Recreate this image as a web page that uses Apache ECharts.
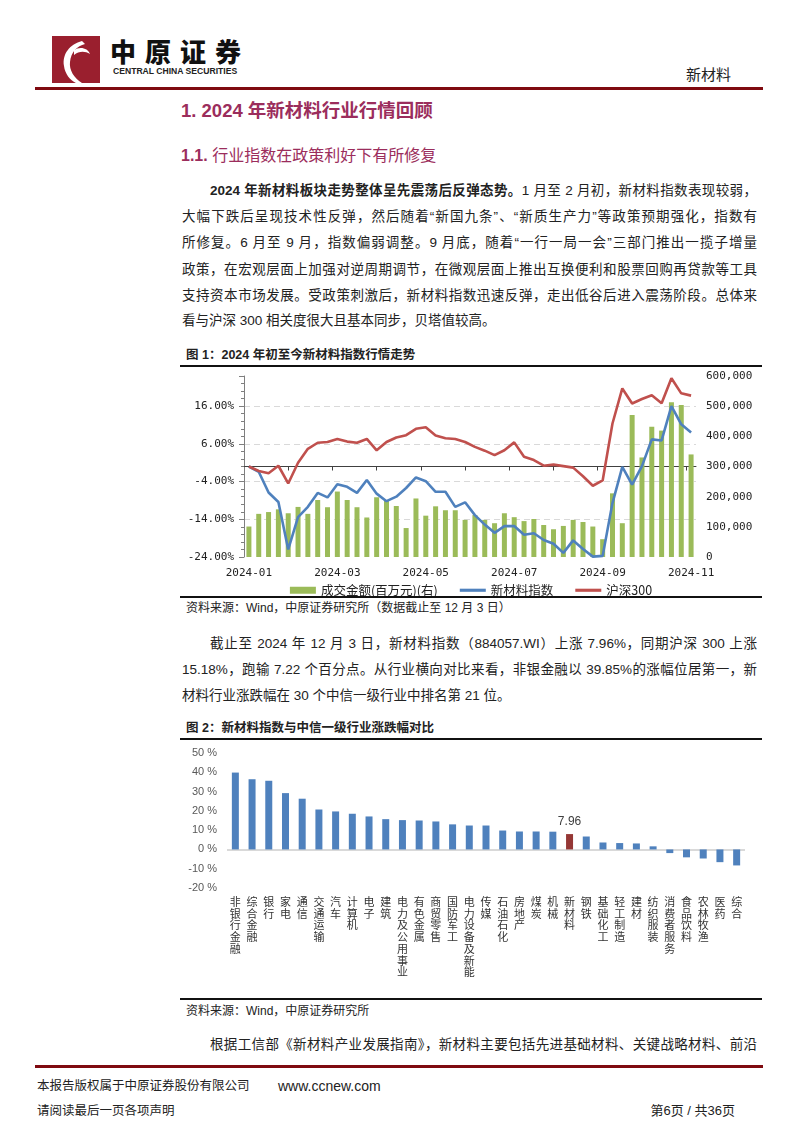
<!DOCTYPE html>
<html><head><meta charset="utf-8">
<script src="https://cdn.jsdelivr.net/npm/echarts@6/dist/echarts.min.js"></script>
<style>
html,body{margin:0;padding:0;}
body{width:794px;height:1123px;position:relative;background:#fff;font-family:"Liberation Sans","Noto Sans CJK SC",sans-serif;color:#222;overflow:hidden;}
.abs{position:absolute;white-space:nowrap;}
.ln{position:absolute;left:182px;width:575px;font-size:13.5px;line-height:20px;height:20px;text-align:justify;text-align-last:justify;color:#222;}
.ind{left:210px;width:547px;}
.last{text-align-last:left;}
.rule{position:absolute;left:180px;width:582px;height:2px;background:#111;}
.cap{position:absolute;left:186px;font-size:12.5px;font-weight:bold;line-height:16px;white-space:nowrap;}
.src{position:absolute;left:186px;font-size:12px;line-height:16px;white-space:nowrap;}
</style></head>
<body>
<!-- header -->
<svg class="abs" style="left:52px;top:36px" width="48" height="47" viewBox="0 0 48 47">
  <rect x="0" y="0" width="48" height="47" fill="#9A1F2E"/>
  <path d="M30 5 C18 8 10 18 12 30 C13 38 18 44 24 47 L30 47 C22 42 17 34 18 26 C19 16 25 10 33 8 Z" fill="#fff"/>
  <path d="M22 14 C28 10 36 12 38 18 C33 15 27 15 22 19 Z" fill="#fff"/>
</svg>
<div class="abs" style="left:110px;top:35px;font-size:26px;font-weight:900;letter-spacing:9px;color:#111;line-height:32px;font-family:'Noto Sans CJK SC'">中原证券</div>
<div class="abs" style="left:113px;top:66px;font-size:8.6px;font-weight:bold;color:#222;line-height:10px;font-family:'Liberation Sans'">CENTRAL CHINA SECURITIES</div>
<div class="abs" style="left:686px;top:65px;font-size:15px;line-height:20px;color:#222">新材料</div>
<div class="abs" style="left:35px;top:87px;width:728px;height:3px;background:#7F0A10"></div>

<div class="abs" style="left:181px;top:98px;font-size:18.5px;font-weight:bold;line-height:26px;color:#9B2D5C">1. 2024 年新材料行业行情回顾</div>
<div class="abs" style="left:181px;top:144px;font-size:16px;line-height:24px;color:#9B2D5C"><b>1.1.</b> 行业指数在政策利好下有所修复</div>

<div class="ln ind" style="top:181px"><b>2024 年新材料板块走势整体呈先震荡后反弹态势。</b>1 月至 2 月初，新材料指数表现较弱，</div>
<div class="ln" style="top:207px">大幅下跌后呈现技术性反弹，然后随着“新国九条”、“新质生产力”等政策预期强化，指数有</div>
<div class="ln" style="top:233px">所修复。6 月至 9 月，指数偏弱调整。9 月底，随着“一行一局一会”三部门推出一揽子增量</div>
<div class="ln" style="top:260px">政策，在宏观层面上加强对逆周期调节，在微观层面上推出互换便利和股票回购再贷款等工具</div>
<div class="ln" style="top:286px">支持资本市场发展。受政策刺激后，新材料指数迅速反弹，走出低谷后进入震荡阶段。总体来</div>
<div class="ln last" style="top:311px">看与沪深 300 相关度很大且基本同步，贝塔值较高。</div>

<div class="cap" style="top:347px">图 1：2024 年初至今新材料指数行情走势</div>
<div class="rule" style="top:365px"></div>
<div id="c1" class="abs" style="left:180px;top:368px;width:582px;height:228px"></div>
<div class="rule" style="top:596px"></div>
<div class="src" style="top:600px">资料来源：Wind，中原证券研究所（数据截止至 12 月 3 日）</div>

<div class="ln ind" style="top:634px">截止至 2024 年 12 月 3 日，新材料指数（884057.WI）上涨 7.96%，同期沪深 300 上涨</div>
<div class="ln" style="top:660px">15.18%，跑输 7.22 个百分点。从行业横向对比来看，非银金融以 39.85%的涨幅位居第一，新</div>
<div class="ln last" style="top:686px">材料行业涨跌幅在 30 个中信一级行业中排名第 21 位。</div>

<div class="cap" style="top:720px">图 2：新材料指数与中信一级行业涨跌幅对比</div>
<div class="rule" style="top:738px"></div>
<div id="c2" class="abs" style="left:180px;top:742px;width:582px;height:256px"></div>
<div class="rule" style="top:998px"></div>
<div class="src" style="top:1003px">资料来源：Wind，中原证券研究所</div>

<div class="ln ind" style="top:1035px">根据工信部《新材料产业发展指南》，新材料主要包括先进基础材料、关键战略材料、前沿</div>

<div class="abs" style="left:35px;top:1065px;width:728px;height:3px;background:#7F0A10"></div>
<div class="abs" style="left:37px;top:1078px;font-size:12.5px;line-height:16px">本报告版权属于中原证券股份有限公司</div>
<div class="abs" style="left:278px;top:1077px;font-size:14px;line-height:18px;font-family:'Liberation Sans'">www.ccnew.com</div>
<div class="abs" style="left:37px;top:1103px;font-size:12.5px;line-height:16px">请阅读最后一页各项声明</div>
<div class="abs" style="left:636px;top:1103px;width:99px;text-align:right;font-size:13px;line-height:16px">第6页 / 共36页</div>

<script>
// ---------- Chart 1 data ----------
const weeks = [
 '2024-01-05','2024-01-12','2024-01-19','2024-01-26',
 '2024-02-02','2024-02-09','2024-02-16','2024-02-23',
 '2024-03-01','2024-03-08','2024-03-15','2024-03-22','2024-03-29',
 '2024-04-05','2024-04-12','2024-04-19','2024-04-26',
 '2024-05-03','2024-05-10','2024-05-17','2024-05-24','2024-05-31',
 '2024-06-07','2024-06-14','2024-06-21','2024-06-28',
 '2024-07-05','2024-07-12','2024-07-19','2024-07-26',
 '2024-08-02','2024-08-09','2024-08-16','2024-08-23','2024-08-30',
 '2024-09-06','2024-09-13','2024-09-20','2024-09-27',
 '2024-10-04','2024-10-11','2024-10-18','2024-10-25',
 '2024-11-01','2024-11-08','2024-11-15'
];
const turnover = [
 101000,143000,149000,158000,145000,166000,143000,189000,165000,217000,
 189000,165000,131000,198000,189000,169000,96000,194000,137000,168000,
 155000,155000,123000,139000,123000,112000,145000,132000,119000,126000,
 106000,92000,103000,123000,116000,101000,59000,211000,112000,471000,
 330000,432000,419000,513000,504000,340000
];
const newMaterialIndex = [
 0,-1.4,-6.9,-9.4,-22.0,-13.4,-10.7,-7.0,-8.2,-4.7,
 -5.4,-7.0,-3.6,-7.2,-9.2,-8.0,-5.7,-2.9,-3.9,-6.7,
 -6.7,-10.7,-9.5,-12.9,-15.4,-17.6,-15.8,-15.8,-18.1,-17.7,
 -19.5,-20.5,-22.9,-19.6,-21.9,-23.9,-23.7,-9.7,-0.1,-4.8,
 0.1,7.2,6.9,16.0,11.2,9.0
];
const hs300 = [
 0,-1.2,-1.8,0.2,-4.5,1.0,4.7,6.3,6.5,7.3,
 6.6,6.3,7.3,4.3,6.5,7.7,8.3,10.0,10.4,8.2,
 7.5,7.3,6.5,5.2,4.2,3.0,4.3,6.4,2.6,1.7,
 0.2,0.5,0.1,-0.3,-2.6,-5.1,-3.7,11.4,20.7,16.7,
 17.9,18.9,16.8,23.4,19.4,18.8
];
const monthTickPositions = [4.5,9,13.5,18,22.5,27,31.5,36,40.5,45];
const seriesNames1 = ['成交金额(百万元)(右)','新材料指数','沪深300'];

// ---------- Chart 2 data ----------
const industries = ['非银行金融','综合金融','银行','家电','通信','交通运输','汽车','计算机','电子','建筑',
 '电力及公用事业','有色金属','商贸零售','国防军工','电力设备及新能','传媒','石油石化','房地产','煤炭','机械',
 '新材料','钢铁','基础化工','轻工制造','建材','纺织服装','消费者服务','食品饮料','农林牧渔','医药','综合'];
const industryChange = [39.85,36.4,35.6,29.2,26.3,20.7,19.7,18.5,17.1,15.7,
 15.2,15.0,14.5,13.0,12.4,12.4,9.8,9.3,9.3,9.2,
 7.96,6.7,3.6,3.3,3.1,1.6,-1.9,-4.1,-4.7,-6.6,-8.3];
const highlightIndustry = '新材料';
</script>
<script>
const mono = 'DejaVu Sans Mono';
const lineIcon = 'path://M0 0H25V3H0Z';
const c1 = echarts.init(document.getElementById('c1'), null, {renderer:'canvas'});
c1.setOption({
  animation:false,
  grid:{left:64,right:66,top:8,bottom:39},
  legend:{
    top:211,left:'center',itemGap:22,itemWidth:26,itemHeight:7,
    textStyle:{fontFamily:'Noto Sans CJK SC',fontSize:12.5,color:'#222'},
    data:[{name:seriesNames1[0],icon:'rect'},{name:seriesNames1[1],icon:lineIcon},{name:seriesNames1[2],icon:lineIcon}]
  },
  xAxis:[{
    type:'category',data:weeks,boundaryGap:true,position:'bottom',
    axisLine:{show:false,onZero:false},axisTick:{show:false},splitLine:{show:false},
    axisLabel:{interval:(i)=>i%9===0,formatter:(v)=>v.slice(0,7),fontFamily:mono,fontSize:11,color:'#222',margin:11}
  },{
    type:'value',min:0,max:weeks.length,position:'bottom',
    axisLine:{show:true,onZero:true,onZeroAxisIndex:0,lineStyle:{color:'#404040',width:1}},
    axisTick:{show:true,customValues:monthTickPositions,length:4,lineStyle:{color:'#404040'}},
    axisLabel:{show:false},splitLine:{show:false}
  }],
  yAxis:[{
    type:'value',min:-24,max:24,interval:10,position:'left',
    axisLine:{show:true,lineStyle:{color:'#7f7f7f'}},
    axisTick:{show:true,length:5,lineStyle:{color:'#7f7f7f'}},
    minorTick:{show:true,splitNumber:5,length:3,lineStyle:{color:'#7f7f7f'}},
    splitLine:{show:true,showMinLine:false,showMaxLine:false,lineStyle:{color:'#d9d9d9',type:[6,4]}},
    axisLabel:{showMaxLabel:false,formatter:(v)=>v.toFixed(2)+'%',fontFamily:mono,fontSize:11,color:'#222',margin:10}
  },{
    type:'value',min:0,max:600000,interval:100000,position:'right',
    axisLine:{show:false},axisTick:{show:false},splitLine:{show:false},
    axisLabel:{formatter:(v)=>v.toLocaleString('en-US'),fontFamily:mono,fontSize:11,color:'#222',margin:10}
  }],
  series:[
    {name:seriesNames1[0],type:'bar',xAxisIndex:0,yAxisIndex:1,data:turnover,barWidth:5,itemStyle:{color:'#9BBB59'}},
    {name:seriesNames1[1],type:'line',xAxisIndex:0,yAxisIndex:0,data:newMaterialIndex,symbol:'none',lineStyle:{color:'#4F81BD',width:2.6},itemStyle:{color:'#4F81BD'},z:3},
    {name:seriesNames1[2],type:'line',xAxisIndex:0,yAxisIndex:0,data:hs300,symbol:'none',lineStyle:{color:'#C0504D',width:2.6},itemStyle:{color:'#C0504D'},z:4}
  ]
});

const c2 = echarts.init(document.getElementById('c2'), null, {renderer:'canvas'});
c2.setOption({
  animation:false,
  grid:{left:47,right:17,top:11,bottom:110},
  xAxis:{
    type:'category',data:industries,boundaryGap:true,
    axisLine:{show:false,onZero:false},axisTick:{show:false},
    axisLabel:{interval:0,formatter:(v)=>v.split('').join('\n'),fontFamily:'Noto Sans CJK SC',fontSize:11,lineHeight:11.7,color:'#333',verticalAlign:'top',margin:8}
  },
  yAxis:{
    type:'value',min:-20,max:50,interval:10,
    axisLine:{show:false},axisTick:{show:false},splitLine:{show:false},
    axisLabel:{formatter:(v)=>v+' %',fontFamily:'Liberation Sans',fontSize:11,color:'#595959',margin:10}
  },
  series:[{
    type:'bar',barWidth:7,
    data:industryChange.map((v,i)=>industries[i]===highlightIndustry
      ? {value:v,itemStyle:{color:'#953735'},label:{show:true,position:'top',distance:6,formatter:(p)=>p.value.toFixed(2),fontFamily:'Liberation Sans',fontSize:12,color:'#404040'}}
      : {value:v}),
    itemStyle:{color:'#4F81BD'},
    markLine:{silent:true,symbol:'none',label:{show:false},lineStyle:{color:'#d9d9d9',width:2,type:'solid'},data:[{yAxis:0}],z:1}
  }]
});
</script>
</body></html>
